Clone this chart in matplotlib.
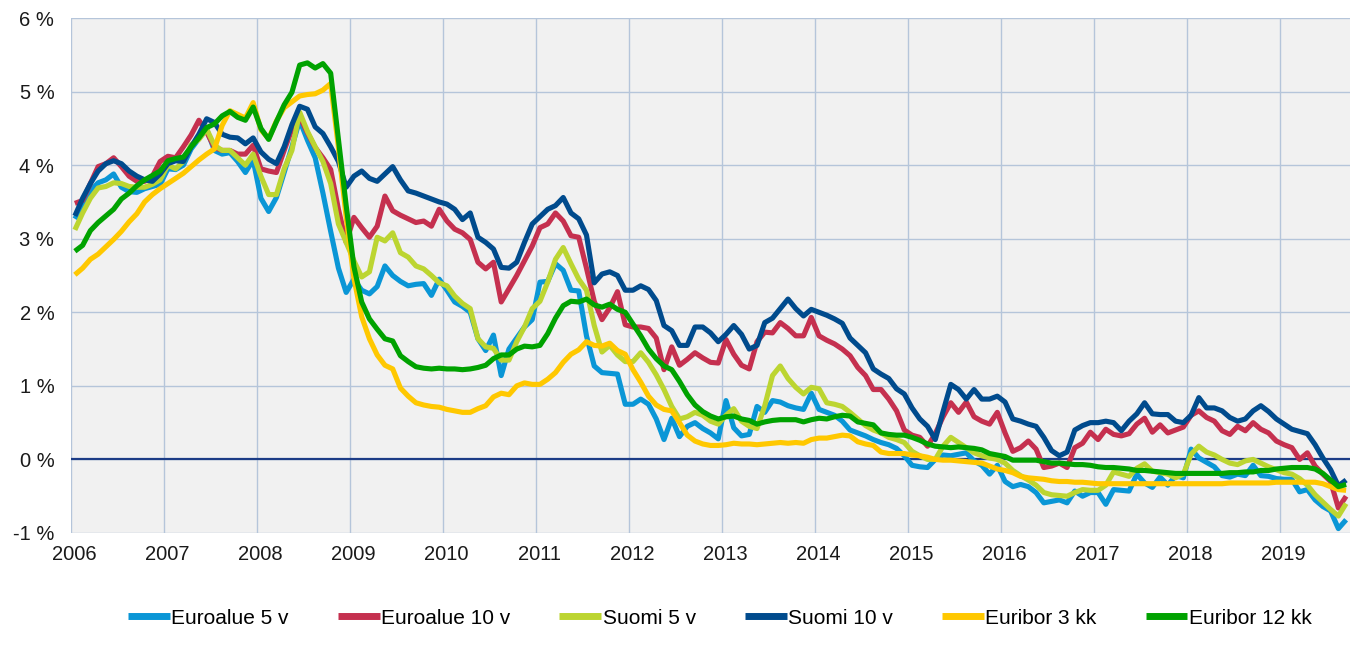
import numpy as np
import matplotlib
matplotlib.use("Agg")
import matplotlib.pyplot as plt
import matplotlib.transforms as mtransforms

plt.rcParams['font.family'] = ['Liberation Sans', 'DejaVu Sans']

# ---------------- data (monthly, Jan 2006 - Sep 2019) ----------------
year_labels = [str(y) for y in range(2006, 2020)]
y_tick_values = [-1, 0, 1, 2, 3, 4, 5, 6]
y_tick_labels = ["-1 %", "0 %", "1 %", "2 %", "3 %", "4 %", "5 %", "6 %"]
series_names = ["Euroalue 5 v", "Euroalue 10 v", "Suomi 5 v", "Suomi 10 v",
                "Euribor 3 kk", "Euribor 12 kk"]
series_colors = ["#0A96D6", "#C5304F", "#BCD531", "#004B8D", "#FFC800", "#00A200"]

euroalue_5v = [
    3.27, 3.45, 3.65, 3.76, 3.80, 3.88, 3.70, 3.64, 3.63, 3.68, 3.71, 3.74,
    3.95, 3.94, 4.00, 4.22, 4.36, 4.49, 4.20, 4.15, 4.17, 4.05, 3.90, 4.07,
    3.55, 3.37, 3.56, 3.90, 4.25, 4.61, 4.34, 4.10, 3.62, 3.10, 2.60, 2.27,
    2.45, 2.30, 2.25, 2.35, 2.63, 2.50, 2.42, 2.36, 2.38, 2.39, 2.23, 2.45,
    2.30, 2.14, 2.08, 2.00, 1.64, 1.48, 1.69, 1.14, 1.50, 1.65, 1.80, 1.90,
    2.41, 2.42, 2.66, 2.57, 2.30, 2.29, 1.68, 1.27, 1.18, 1.17, 1.16, 0.75,
    0.75, 0.82, 0.75, 0.55, 0.27, 0.56, 0.31, 0.45, 0.50, 0.42, 0.36, 0.28,
    0.80, 0.43, 0.32, 0.34, 0.72, 0.64, 0.80, 0.78, 0.73, 0.70, 0.68, 0.90,
    0.68, 0.64, 0.60, 0.52, 0.40, 0.36, 0.32, 0.27, 0.23, 0.20, 0.15, 0.05,
    -0.08, -0.10, -0.11, 0.00, 0.06, 0.05, 0.07, 0.09, -0.02, -0.08, -0.20, -0.08,
    -0.30, -0.37, -0.34, -0.37, -0.45, -0.59, -0.57, -0.55, -0.59, -0.43, -0.50, -0.45,
    -0.45, -0.61, -0.41, -0.42, -0.43, -0.20, -0.32, -0.38, -0.24, -0.35, -0.22, -0.25,
    0.14, 0.02, -0.04, -0.10, -0.22, -0.24, -0.20, -0.22, -0.08, -0.22, -0.23, -0.26,
    -0.27, -0.27, -0.44, -0.41, -0.55, -0.64, -0.70, -0.94, -0.82,
]

euroalue_10v = [
    3.48, 3.52, 3.75, 3.98, 4.02, 4.10, 3.98, 3.85, 3.78, 3.78, 3.85, 4.05,
    4.12, 4.10, 4.25, 4.41, 4.61, 4.45, 4.24, 4.20, 4.20, 4.15, 4.15, 4.27,
    3.95, 3.92, 3.90, 4.20, 4.49, 4.66, 4.44, 4.24, 4.10, 3.94, 3.40, 2.95,
    3.29, 3.15, 3.02, 3.17, 3.58, 3.38, 3.32, 3.27, 3.22, 3.24, 3.17, 3.40,
    3.24, 3.13, 3.08, 2.99, 2.68, 2.59, 2.68, 2.14, 2.32, 2.50, 2.70, 2.90,
    3.15, 3.20, 3.35, 3.24, 3.04, 3.02, 2.60, 2.15, 1.90, 2.06, 2.28, 1.83,
    1.80, 1.80, 1.78, 1.65, 1.22, 1.53, 1.28, 1.36, 1.45, 1.38, 1.32, 1.31,
    1.63, 1.43, 1.28, 1.23, 1.60, 1.73, 1.72, 1.86, 1.78, 1.68, 1.68, 1.93,
    1.68, 1.62, 1.57, 1.50, 1.41, 1.25, 1.14, 0.95, 0.95, 0.82, 0.66, 0.40,
    0.33, 0.30, 0.18, 0.35, 0.58, 0.77, 0.64, 0.78, 0.58, 0.52, 0.48, 0.64,
    0.36, 0.11, 0.16, 0.25, 0.14, -0.11, -0.09, -0.05, -0.11, 0.16, 0.22, 0.37,
    0.27, 0.41, 0.34, 0.32, 0.35, 0.48, 0.56, 0.37, 0.47, 0.36, 0.40, 0.44,
    0.60, 0.66, 0.57, 0.52, 0.39, 0.34, 0.45, 0.39, 0.50, 0.41, 0.36, 0.25,
    0.20, 0.16, 0.00, 0.09, -0.09, -0.20, -0.30, -0.66, -0.50,
]

suomi_5v = [
    3.12, 3.35, 3.55, 3.69, 3.71, 3.76, 3.75, 3.71, 3.70, 3.70, 3.74, 3.80,
    4.00, 3.95, 4.05, 4.28, 4.35, 4.49, 4.27, 4.20, 4.20, 4.10, 4.00, 4.15,
    3.85, 3.60, 3.60, 3.95, 4.20, 4.72, 4.46, 4.25, 4.05, 3.75, 3.20, 2.95,
    2.70, 2.48, 2.55, 3.02, 2.97, 3.08, 2.81, 2.75, 2.63, 2.59, 2.50, 2.40,
    2.36, 2.22, 2.12, 2.05, 1.64, 1.53, 1.51, 1.35, 1.35, 1.60, 1.80, 2.05,
    2.15, 2.41, 2.72, 2.88, 2.66, 2.45, 2.30, 1.82, 1.46, 1.55, 1.42, 1.33,
    1.33, 1.45, 1.32, 1.15, 0.95, 0.72, 0.55, 0.58, 0.64, 0.60, 0.52, 0.48,
    0.60, 0.69, 0.52, 0.45, 0.42, 0.73, 1.14, 1.27, 1.10, 0.98, 0.89, 0.98,
    0.96, 0.77, 0.75, 0.72, 0.64, 0.55, 0.46, 0.40, 0.36, 0.30, 0.27, 0.23,
    0.11, 0.05, 0.00, 0.00, 0.18, 0.30, 0.23, 0.16, 0.09, 0.05, 0.02, 0.00,
    -0.05, -0.15, -0.22, -0.28, -0.35, -0.45, -0.48, -0.49, -0.50, -0.45, -0.41, -0.42,
    -0.42, -0.35, -0.17, -0.20, -0.23, -0.12, -0.06, -0.16, -0.18, -0.20, -0.25, -0.20,
    0.07, 0.18, 0.10, 0.06, 0.00, -0.05, -0.07, -0.02, 0.00, -0.05, -0.10, -0.14,
    -0.18, -0.20, -0.26, -0.35, -0.48, -0.58, -0.68, -0.77, -0.60,
]

suomi_10v = [
    3.31, 3.55, 3.75, 3.92, 4.02, 4.06, 4.02, 3.92, 3.85, 3.80, 3.78, 3.88,
    4.02, 4.06, 4.05, 4.25, 4.42, 4.63, 4.58, 4.42, 4.38, 4.37, 4.29, 4.37,
    4.18, 4.08, 4.02, 4.25, 4.55, 4.80, 4.76, 4.52, 4.43, 4.25, 4.05, 3.70,
    3.85, 3.92, 3.82, 3.78, 3.88, 3.98, 3.80, 3.65, 3.62, 3.58, 3.54, 3.50,
    3.47, 3.40, 3.26, 3.35, 3.02, 2.95, 2.86, 2.61, 2.60, 2.68, 2.95, 3.20,
    3.30, 3.40, 3.45, 3.56, 3.35, 3.27, 3.05, 2.40, 2.52, 2.55, 2.50, 2.30,
    2.30, 2.36, 2.31, 2.16, 1.82, 1.75, 1.55, 1.55, 1.80, 1.80, 1.72, 1.60,
    1.70, 1.82, 1.70, 1.50, 1.55, 1.86, 1.92, 2.05, 2.18, 2.05, 1.95, 2.04,
    2.00, 1.96, 1.91, 1.85, 1.65, 1.55, 1.45, 1.23, 1.16, 1.10, 0.96, 0.89,
    0.70, 0.55, 0.45, 0.27, 0.65, 1.02, 0.95, 0.82, 0.95, 0.82, 0.82, 0.86,
    0.78, 0.55, 0.52, 0.48, 0.45, 0.30, 0.12, 0.05, 0.10, 0.40, 0.46, 0.50,
    0.50, 0.52, 0.50, 0.39, 0.52, 0.62, 0.77, 0.62, 0.61, 0.61, 0.52, 0.50,
    0.60, 0.84, 0.70, 0.70, 0.66, 0.57, 0.52, 0.55, 0.66, 0.73, 0.65, 0.55,
    0.48, 0.41, 0.38, 0.35, 0.20, 0.02, -0.14, -0.36, -0.28,
]

euribor_3kk = [
    2.51, 2.60, 2.72, 2.79, 2.89, 2.99, 3.10, 3.23, 3.34, 3.50, 3.60, 3.68,
    3.75, 3.82, 3.89, 3.98, 4.07, 4.15, 4.22, 4.54, 4.74, 4.69, 4.64, 4.85,
    4.48, 4.36, 4.60, 4.78, 4.86, 4.94, 4.96, 4.97, 5.02, 5.11, 4.24, 3.29,
    2.46, 1.94, 1.64, 1.42, 1.28, 1.23, 0.97, 0.86, 0.77, 0.74, 0.72, 0.71,
    0.68, 0.66, 0.64, 0.64, 0.69, 0.73, 0.85, 0.90, 0.88, 1.00, 1.04, 1.02,
    1.02, 1.09, 1.18, 1.32, 1.43, 1.49, 1.60, 1.55, 1.54, 1.58, 1.48, 1.43,
    1.22, 1.05, 0.86, 0.74, 0.68, 0.66, 0.50, 0.33, 0.25, 0.21, 0.19, 0.19,
    0.20, 0.22, 0.21, 0.21, 0.20, 0.21, 0.22, 0.23, 0.22, 0.23, 0.22, 0.27,
    0.29, 0.29, 0.31, 0.33, 0.32, 0.24, 0.21, 0.19, 0.10, 0.08, 0.08, 0.08,
    0.06, 0.05, 0.03, 0.00, -0.01, -0.01, -0.02, -0.03, -0.04, -0.05, -0.09, -0.13,
    -0.15, -0.18, -0.23, -0.25, -0.26, -0.27, -0.29, -0.30, -0.30, -0.31, -0.31, -0.32,
    -0.33, -0.33, -0.33, -0.33, -0.33, -0.33, -0.33, -0.33, -0.33, -0.33, -0.33, -0.33,
    -0.33, -0.33, -0.33, -0.33, -0.33, -0.32, -0.32, -0.32, -0.32, -0.32, -0.32, -0.31,
    -0.31, -0.31, -0.31, -0.31, -0.31, -0.33, -0.37, -0.41, -0.42,
]

euribor_12kk = [
    2.83, 2.91, 3.11, 3.22, 3.31, 3.40, 3.54, 3.62, 3.72, 3.80, 3.86, 3.92,
    4.06, 4.09, 4.11, 4.25, 4.37, 4.51, 4.56, 4.67, 4.73, 4.65, 4.61, 4.79,
    4.50, 4.35, 4.59, 4.82, 4.99, 5.36, 5.39, 5.32, 5.38, 5.25, 4.35, 3.45,
    2.62, 2.14, 1.91, 1.77, 1.64, 1.61, 1.41, 1.33, 1.26, 1.24, 1.23, 1.24,
    1.23, 1.23, 1.22, 1.23, 1.25, 1.28, 1.37, 1.42, 1.42, 1.50, 1.54, 1.53,
    1.55, 1.71, 1.92, 2.09, 2.15, 2.14, 2.18, 2.10, 2.07, 2.11, 2.04, 2.00,
    1.84, 1.68, 1.50, 1.37, 1.27, 1.22, 1.06, 0.88, 0.74, 0.65, 0.59, 0.55,
    0.58, 0.59, 0.55, 0.53, 0.48, 0.51, 0.53, 0.54, 0.54, 0.54, 0.51, 0.54,
    0.56, 0.55, 0.58, 0.60, 0.59, 0.51, 0.49, 0.47, 0.36, 0.34, 0.33, 0.33,
    0.30, 0.26, 0.21, 0.18, 0.17, 0.16, 0.17, 0.16, 0.15, 0.13, 0.08, 0.06,
    0.04, -0.01, -0.01, -0.01, -0.01, -0.03, -0.05, -0.05, -0.06, -0.07, -0.07, -0.08,
    -0.10, -0.11, -0.11, -0.12, -0.13, -0.15, -0.15, -0.16, -0.17, -0.18, -0.19, -0.19,
    -0.19, -0.19, -0.19, -0.19, -0.19, -0.18, -0.18, -0.17, -0.17, -0.15, -0.15, -0.13,
    -0.12, -0.11, -0.11, -0.11, -0.13, -0.19, -0.28, -0.37, -0.34,
]

all_series = [euroalue_5v, euroalue_10v, suomi_5v, suomi_10v, euribor_3kk, euribor_12kk]

# ---------------- figure ----------------
W, H = 1355, 654
fig = plt.figure(figsize=(W / 100, H / 100), dpi=100)
left, right, top, bottom = 71, 1350, 18, 533
ax = fig.add_axes([left / W, 1 - bottom / H, (right - left) / W, (bottom - top) / H])
ax.set_facecolor("#F1F1F1")

n_months = len(euribor_3kk)
x = np.arange(n_months) + 0.5

ax.axhline(0, color="#1C3C86", lw=1.6, zorder=2)
for vals, col, name in zip(all_series, series_colors, series_names):
    ax.plot(x, vals, color=col, lw=3.7, label=name, zorder=3,
            solid_joinstyle="round", solid_capstyle="butt")

ax.set_xlim(0, 165)
ax.set_ylim(-1, 6)
ax.set_xticks(np.arange(0, 12 * len(year_labels), 12))
ax.set_xticklabels(year_labels)
ax.set_yticks(y_tick_values)
ax.set_yticklabels(y_tick_labels)
ax.grid(True, color="#B5C5DA", lw=1.0, zorder=1)
ax.set_axisbelow(True)
for s in ax.spines.values():
    s.set_visible(False)
ax.tick_params(axis="both", length=0, labelsize=14.5, colors="#1A1A1A")
ax.tick_params(axis="y", pad=12)
ax.tick_params(axis="x", pad=9)
offset = mtransforms.ScaledTranslation(3 / 100, 0, fig.dpi_scale_trans)
for lbl in ax.get_xticklabels():
    lbl.set_transform(lbl.get_transform() + offset)

leg = fig.legend(loc="center", bbox_to_anchor=(720 / W, 1 - 618 / H), ncol=6,
                 frameon=False, fontsize=15, handlelength=2.0, handletextpad=0.08,
                 columnspacing=2.35, borderaxespad=0)
for line in leg.get_lines():
    line.set_linewidth(5)

fig.savefig("out.png", dpi=100)
